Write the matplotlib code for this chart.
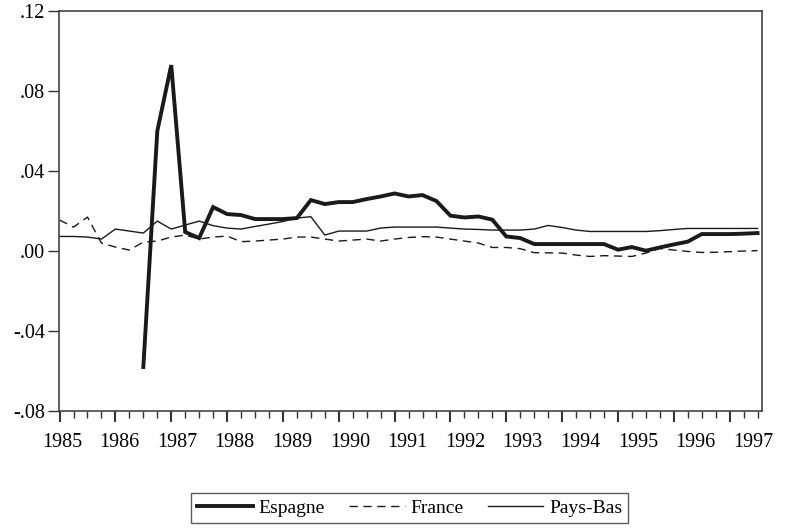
import matplotlib
matplotlib.use('Agg')
import matplotlib.pyplot as plt
import numpy as np
import pandas as pd

plt.rcParams['font.family'] = ['Liberation Serif', 'DejaVu Serif']

# Quarterly data 1985Q1 - 1997Q3
periods = pd.period_range('1985Q1', '1997Q3', freq='Q')
years = np.array([p.year + (p.quarter - 1) / 4 for p in periods])

espagne = [None, None, None, None, None, None,
           -0.058, 0.060, 0.093, 0.0095, 0.0065, 0.022, 0.0185, 0.018, 0.016, 0.016,
           0.016, 0.0165, 0.0255, 0.0235, 0.0245, 0.0245, 0.026, 0.0273, 0.0288, 0.0273,
           0.028, 0.025, 0.0177, 0.0168, 0.0173, 0.0157, 0.0073, 0.0065, 0.0035, 0.0035,
           0.0035, 0.0035, 0.0035, 0.0035, 0.0007, 0.002, 0.0002, 0.0018, 0.0033, 0.0047,
           0.0085, 0.0085, 0.0085, 0.0087, 0.009]
france = [0.0155, 0.012, 0.017, 0.004, 0.002, 0.0005, 0.0045, 0.005, 0.007, 0.008,
          0.006, 0.007, 0.0075, 0.0047, 0.005, 0.0055, 0.006, 0.007, 0.007, 0.006,
          0.005, 0.0055, 0.006, 0.005, 0.006, 0.0068, 0.0072, 0.007, 0.006, 0.005,
          0.004, 0.0018, 0.0018, 0.0012, -0.0008, -0.0009, -0.001, -0.002, -0.0027, -0.0023,
          -0.0025, -0.0027, -0.001, 0.0013, 0.0005, -0.0002, -0.0007, -0.0006, -0.0003, 0.0,
          0.0002]
pays_bas = [0.0073, 0.0073, 0.007, 0.006, 0.011, 0.010, 0.009, 0.015, 0.011, 0.013,
            0.015, 0.0127, 0.0115, 0.011, 0.0123, 0.0135, 0.0148, 0.0165, 0.0172, 0.008,
            0.010, 0.010, 0.010, 0.0115, 0.012, 0.012, 0.012, 0.012, 0.0115, 0.011,
            0.0108, 0.0105, 0.0105, 0.0105, 0.011, 0.0128, 0.0118, 0.0105, 0.0098, 0.0098,
            0.0098, 0.0098, 0.0098, 0.0102, 0.0108, 0.0113, 0.0113, 0.0113, 0.0113, 0.0113,
            0.0113]

year_labels = [str(y) for y in range(1985, 1998)]
y_ticks = [-0.08, -0.04, 0.0, 0.04, 0.08, 0.12]
y_labels = ['-.08', '-.04', '.00', '.04', '.08', '.12']

fig = plt.figure(figsize=(7.88, 5.30), dpi=100)
ax = fig.add_axes([0.0749, 0.2245, 0.8921, 0.7545])

esp = np.array([np.nan if v is None else v for v in espagne])
ax.plot(years, esp, color='#1a1a1a', lw=2.8, label='Espagne', solid_joinstyle='miter')
ax.plot(years, france, color='#1a1a1a', lw=1.0, dashes=(6, 4), label='France')
ax.plot(years, pays_bas, color='#1a1a1a', lw=1.0, label='Pays-Bas')

ax.set_xlim(1984.99, 1997.58)
ax.set_ylim(-0.08, 0.12)
ax.set_yticks(y_ticks)
ax.set_yticklabels(y_labels, fontsize=14.5)

# year ticks + quarter minor ticks, labels drawn on a secondary axis
ax.set_xticks(np.arange(1985, 1998))
ax.set_xticklabels([])
ax.set_xticks(years, minor=True)
ax.tick_params(axis='x', which='major', length=8, width=1.5, direction='out', color='#333333')
ax.tick_params(axis='x', which='minor', length=5, width=1.0, direction='out', color='#333333')
ax.tick_params(axis='y', length=8, width=1.0, direction='out', color='#333333', pad=2)

sec = ax.secondary_xaxis('bottom')
sec.set_xticks(np.linspace(1985.04, 1997.42, 13))
sec.set_xticklabels(year_labels, fontsize=14.5)
sec.tick_params(length=0, pad=16)
sec.spines['bottom'].set_visible(False)

for s in ax.spines.values():
    s.set_color('#444444')
    s.set_linewidth(1.2)

leg = fig.legend(loc='center', bbox_to_anchor=(0.52, 0.0415), ncol=3, fontsize=14,
                 frameon=True, fancybox=False, handlelength=2.85, columnspacing=1.25,
                 handletextpad=0.3, borderpad=0.3)
leg.get_frame().set_edgecolor('#333333')
leg.get_frame().set_linewidth(1.0)

fig.savefig('out.png', dpi=100)
